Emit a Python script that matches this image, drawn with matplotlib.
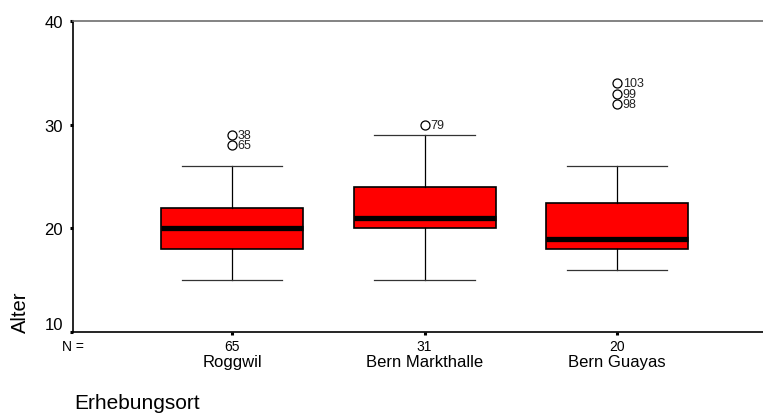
import matplotlib
matplotlib.use("Agg")
import matplotlib.pyplot as plt
import matplotlib.transforms as mtransforms

plt.rcParams['font.family'] = ['Liberation Sans', 'DejaVu Sans']

categories = ["Roggwil", "Bern Markthalle", "Bern Guayas"]
n_counts = [65, 31, 20]
medians = [20, 21, 19]
q1 = [18, 20, 18]
q3 = [22, 24, 22.4]
whisker_low = [15, 15, 16]
whisker_high = [26, 29, 26]
outlier_values = [[28, 29], [30], [32, 33, 34]]
outlier_labels = [["65", "38"], ["79"], ["98", "99", "103"]]
y_ticks = [10, 20, 30, 40]

fig = plt.figure(figsize=(7.63, 4.14), dpi=100)
ax = fig.add_axes([73/763, 1-333/414, (763-73)/763, (333-22)/414])

positions = [1, 2, 3]
stats = []
for i in range(3):
    stats.append(dict(med=medians[i], q1=q1[i], q3=q3[i],
                      whislo=whisker_low[i], whishi=whisker_high[i],
                      fliers=[]))

ax.bxp(stats, positions=positions, widths=0.738, capwidths=0.52,
       patch_artist=True, showfliers=False,
       boxprops=dict(facecolor='#ff0000', edgecolor='black', linewidth=1.2),
       medianprops=dict(color='black', linewidth=3.8, solid_capstyle='butt'),
       whiskerprops=dict(color='black', linewidth=0.9),
       capprops=dict(color='#333333', linewidth=0.9))

for p, vals, labs in zip(positions, outlier_values, outlier_labels):
    ax.plot([p]*len(vals), vals, linestyle='none', marker='o', markersize=6.5,
            markerfacecolor='white', markeredgecolor='black', markeredgewidth=0.9,
            zorder=5)
    for v, lab in zip(vals, labs):
        ax.annotate(lab, (p, v), xytext=(4, 0), textcoords='offset points',
                    ha='left', va='center', fontsize=9, color='#222222')

ax.set_xlim(0.174, 3.758)
ax.set_ylim(10, 40)
ax.set_yticks(y_ticks)
ax.set_yticklabels([str(t) for t in y_ticks], fontsize=12)
ax.get_yticklabels()[0].set_va('bottom')
ax.set_xticks(positions)
ax.set_xticklabels([])
ax.tick_params(axis='both', direction='out', length=2.2, width=2.2, color='black', pad=5)

for s in ['right']:
    ax.spines[s].set_visible(False)
ax.spines['top'].set_color('#6e6e6e')
ax.spines['top'].set_linewidth(1.2)
ax.spines['left'].set_linewidth(1.2)
ax.spines['bottom'].set_linewidth(1.2)

trans = mtransforms.blended_transform_factory(ax.transData, fig.transFigure)
ax.text(0.174, 1-347/414, "N =", transform=trans, ha='center', va='center', fontsize=10)
for p, n, c in zip(positions, n_counts, categories):
    ax.text(p, 1-347/414, str(n), transform=trans, ha='center', va='center', fontsize=10)
    ax.text(p, 1-363/414, c, transform=trans, ha='center', va='center', fontsize=12)

fig.text(20/763, 1-312/414, "Alter", rotation=90, ha='center', va='center', fontsize=14.5)
fig.text(74/763, 1-404/414, "Erhebungsort", ha='left', va='center', fontsize=15)

fig.savefig("out.png", dpi=100)
